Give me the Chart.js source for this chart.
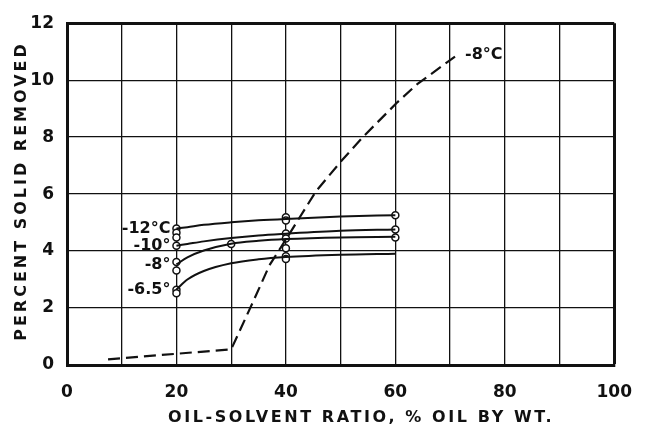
<!DOCTYPE html>
<html>
<head>
<meta charset="utf-8">
<script src="https://cdn.jsdelivr.net/npm/chart.js@4"></script>
<style>
  html, body { margin: 0; padding: 0; background: #fff; }
  #wrap { width: 649px; height: 430px; }
</style>
</head>
<body>
<div id="wrap"><canvas id="chart"></canvas></div>
<script>
// Solid curves: % solid removed vs oil-solvent ratio
const RATIO = [20, 22, 25, 30, 35, 40, 50, 60];
const SERIES_NAMES = ['-12°C', '-10°', '-8°', '-6.5°'];
const MINUS_12 = [4.79, 4.84, 4.92, 5.01, 5.08, 5.13, 5.21, 5.26];
const MINUS_10 = [4.19, 4.25, 4.34, 4.46, 4.55, 4.61, 4.71, 4.76];
const MINUS_8 = [3.53, 3.78, 4.02, 4.26, 4.36, 4.42, 4.48, 4.50];
const MINUS_6_5 = [2.65, 3.00, 3.30, 3.57, 3.71, 3.79, 3.87, 3.91];

// Dashed -8°C curve
const DASH_X = [7.5, 30, 34, 37, 40.3, 45.5, 50.2, 54.2, 60.4, 64, 70.9];
const DASH_Y = [0.2, 0.55, 2.22, 3.5, 4.5, 6.1, 7.18, 8.03, 9.23, 9.86, 10.83];
const DASH_NAME = '-8°C';

// Experimental points (open circles)
const PT_X = [20, 20, 20, 20, 20, 20, 20, 20, 30, 40, 40, 40, 40, 40, 40, 40, 60, 60, 60];
const PT_Y = [4.79, 4.64, 4.48, 4.19, 3.62, 3.32, 2.64, 2.52, 4.25, 5.19, 5.07, 4.62, 4.44, 4.10, 3.82, 3.72, 5.26, 4.76, 4.48];

const X_TITLE = 'OIL-SOLVENT RATIO, % OIL BY WT.';
const Y_TITLE = 'PERCENT SOLID REMOVED';

const INK = '#111';
const FONT = '"DejaVu Sans", sans-serif';

const toXY = (xs, ys) => xs.map((x, i) => ({ x, y: ys[i] }));

const solidSet = (label, ys) => ({
    label,
    data: toXY(RATIO, ys),
    borderColor: INK,
    borderWidth: 2,
    pointRadius: 0,
    showLine: true,
    fill: false,
    cubicInterpolationMode: 'monotone',
    isCurve: true,
});

const curveLabels = {
    id: 'curveLabels',
    afterDatasetsDraw(chart) {
        const { ctx, scales: { x, y } } = chart;
        ctx.save();
        ctx.fillStyle = INK;
        ctx.font = 'bold 16px ' + FONT;
        ctx.textBaseline = 'middle';
        chart.data.datasets.forEach(ds => {
            if (ds.isCurve) {
                const p = ds.data[0];
                ctx.textAlign = 'right';
                ctx.fillText(ds.label, x.getPixelForValue(p.x) - 6, y.getPixelForValue(p.y));
            } else if (ds.isDash) {
                const p = ds.data[ds.data.length - 1];
                ctx.textAlign = 'left';
                ctx.fillText(ds.label, x.getPixelForValue(p.x) + 10, y.getPixelForValue(p.y) - 2);
            }
        });
        ctx.restore();
    },
    afterDraw(chart) {
        const { ctx } = chart;
        ctx.save();
        ctx.fillStyle = INK;
        ctx.font = 'bold 16px ' + FONT;
        ctx.textAlign = 'center';
        ctx.textBaseline = 'middle';
        ctx.letterSpacing = '2.6px';
        ctx.fillText(X_TITLE, 361, 418);
        ctx.translate(22, 191);
        ctx.rotate(-Math.PI / 2);
        ctx.letterSpacing = '3px';
        ctx.fillText(Y_TITLE, 0, 0);
        ctx.restore();
    },
};

new Chart(document.getElementById('chart'), {
    type: 'scatter',
    data: {
        datasets: [
            solidSet(SERIES_NAMES[0], MINUS_12),
            solidSet(SERIES_NAMES[1], MINUS_10),
            solidSet(SERIES_NAMES[2], MINUS_8),
            solidSet(SERIES_NAMES[3], MINUS_6_5),
            {
                label: DASH_NAME,
                data: toXY(DASH_X, DASH_Y),
                borderColor: INK,
                borderWidth: 2.2,
                borderDash: [12, 6],
                pointRadius: 0,
                showLine: true,
                tension: 0,
                isDash: true,
            },
            {
                label: 'points',
                data: toXY(PT_X, PT_Y),
                pointRadius: 3.5,
                pointBackgroundColor: '#fff',
                pointBorderColor: INK,
                pointBorderWidth: 1.5,
                showLine: false,
            },
        ],
    },
    options: {
        responsive: true,
        maintainAspectRatio: false,
        animation: false,
        layout: { padding: { top: 14, right: 4, left: 0, bottom: 0 } },
        scales: {
            x: {
                type: 'linear',
                min: 0,
                max: 100,
                afterFit: (s) => { s.height = 65; },
                border: { display: true, color: INK, width: 3 },
                grid: {
                    color: INK,
                    lineWidth: (c) => (c.tick && c.tick.value === 100 ? 3 : 1.3),
                    drawTicks: false,
                },
                ticks: {
                    stepSize: 10,
                    padding: 17,
                    color: INK,
                    font: { family: FONT, size: 17, weight: 'bold' },
                    callback: (v) => (v % 20 === 0 ? v : ''),
                    maxRotation: 0,
                    autoSkip: false,
                },
            },
            y: {
                type: 'linear',
                min: 0,
                max: 12,
                afterFit: (s) => { s.width = 67; },
                border: { display: true, color: INK, width: 3 },
                grid: {
                    color: INK,
                    lineWidth: (c) => (c.tick && c.tick.value === 12 ? 3 : 1.3),
                    drawTicks: false,
                },
                ticks: {
                    stepSize: 2,
                    padding: 13,
                    color: INK,
                    font: { family: FONT, size: 17, weight: 'bold' },
                },
            },
        },
        plugins: {
            legend: { display: false },
            tooltip: { enabled: false },
        },
    },
    plugins: [curveLabels],
});
</script>
</body>
</html>
